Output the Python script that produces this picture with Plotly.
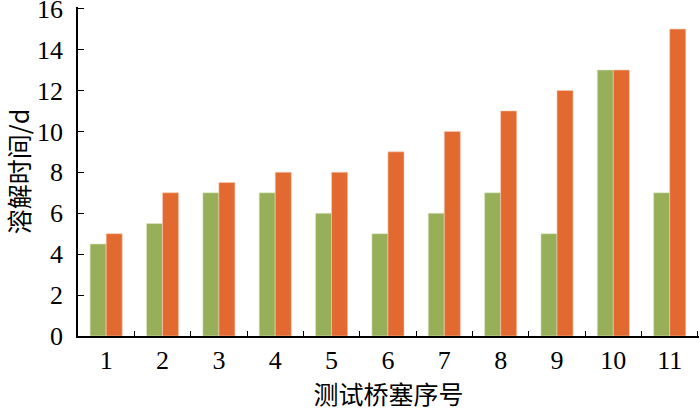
import plotly.graph_objects as go

categories = ["1", "2", "3", "4", "5", "6", "7", "8", "9", "10", "11"]
series_green = [4.5, 5.5, 7, 7, 6, 5, 6, 7, 5, 13, 7]
series_orange = [5, 7, 7.5, 8, 8, 9, 10, 11, 12, 13, 15]
y_ticks = [0, 2, 4, 6, 8, 10, 12, 14, 16]

NUM_FONT = "Liberation Serif, Times New Roman, serif"
CJK_FONT = "Noto Sans CJK SC"

fig = go.Figure()
fig.add_trace(go.Bar(x=categories, y=series_green, marker=dict(color="#97af59", line=dict(color="#dfe8c8", width=0.6)), showlegend=False))
fig.add_trace(go.Bar(x=categories, y=series_orange, marker=dict(color="#e2692f", line=dict(color="#f6cbb5", width=0.6)), showlegend=False))

fig.update_layout(
    width=700, height=411,
    margin=dict(l=78, r=1, t=7, b=75, autoexpand=False),
    paper_bgcolor="white", plot_bgcolor="white",
    barmode="group", bargap=0.43, bargroupgap=0,
    font=dict(family=NUM_FONT, size=26, color="black"),
    xaxis=dict(
        type="category", range=[-0.5, 10.52], automargin=False,
        showline=True, linecolor="black", linewidth=1.5,
        ticks="inside", ticklen=5, tickwidth=1.2, tickcolor="black",
        tickson="boundaries", showgrid=False,
        tickfont=dict(family=NUM_FONT, size=26),
        title=dict(text="测试桥塞序号", font=dict(family=CJK_FONT, size=25), standoff=11),
    ),
    yaxis=dict(
        range=[0, 16.08], tickvals=y_ticks, automargin=False,
        showline=True, linecolor="black", linewidth=1.5,
        ticks="inside", ticklen=6, tickwidth=1.2, tickcolor="black",
        showgrid=False, zeroline=False,
        tickfont=dict(family=NUM_FONT, size=26),
        ticklabelstandoff=8, ticklabeloverflow="allow",
        title=dict(text="溶解时间/d", font=dict(family=CJK_FONT, size=25), standoff=11),
    ),
)

fig.write_html(
    "out.html",
    config={"displayModeBar": False},
    post_script="document.body.style.margin='0';document.body.style.padding='0';",
)
